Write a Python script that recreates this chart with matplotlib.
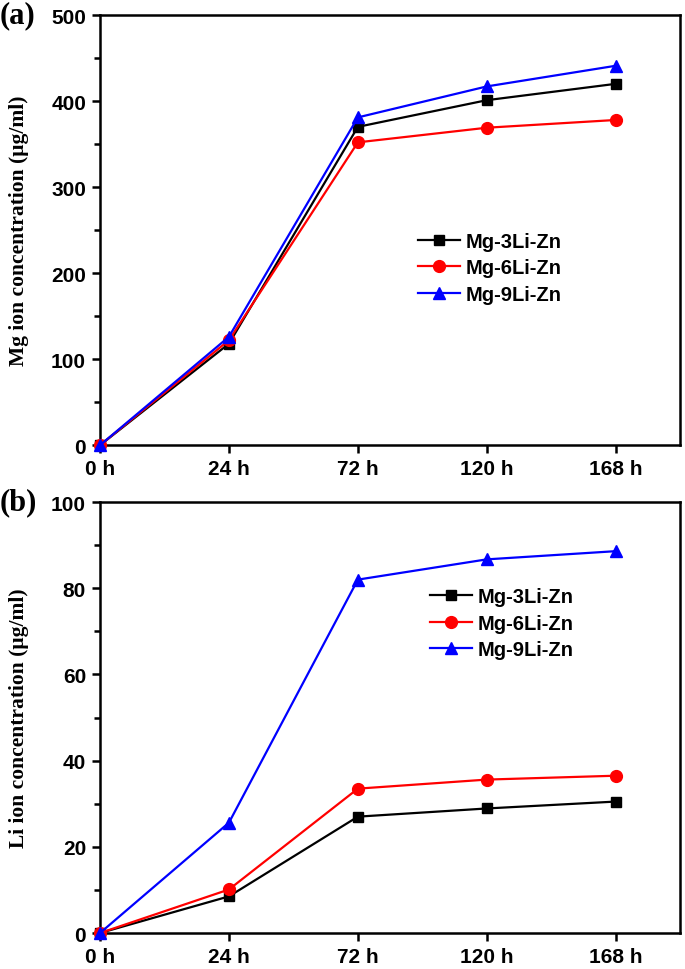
import numpy as np
import matplotlib
matplotlib.use("Agg")
import matplotlib.pyplot as plt
from matplotlib import font_manager
from matplotlib.ticker import MultipleLocator

# data
times = ["0 h", "24 h", "72 h", "120 h", "168 h"]
alloys = ["Mg-3Li-Zn", "Mg-6Li-Zn", "Mg-9Li-Zn"]

mg_3li = [0, 118, 370, 401, 420]
mg_6li = [0, 122, 352, 369, 378]
mg_9li = [0, 126, 381, 417, 441]

li_3li = [0, 8.5, 27.0, 28.9, 30.5]
li_6li = [0, 10.1, 33.5, 35.6, 36.5]
li_9li = [0, 25.6, 82.0, 86.7, 88.6]

colors = ["black", "red", "blue"]
markers = ["s", "o", "^"]
msizes = [7, 8.5, 9]

names = {f.name for f in font_manager.fontManager.ttflist}
tick_font = "Liberation Sans Narrow" if "Liberation Sans Narrow" in names else "Liberation Sans"
label_font = "Liberation Serif"
tsize = 17 if tick_font == "Liberation Sans Narrow" else 15
lsize = 17 if tick_font == "Liberation Sans Narrow" else 14.5

fig = plt.figure(figsize=(6.85, 9.70), dpi=100)
ax1 = fig.add_axes([0.146, 0.540, 0.847, 0.4435])
ax2 = fig.add_axes([0.146, 0.0371, 0.847, 0.4443])

x = np.arange(len(times))


def draw(ax, series, ymax, major, minor, ylabel, tag, leg_anchor):
    for vals, c, m, ms, name in zip(series, colors, markers, msizes, alloys):
        ax.plot(x, vals, color=c, marker=m, markersize=ms, linewidth=1.6,
                label=name, clip_on=False, zorder=3)
    ax.set_xlim(0, 4.5)
    ax.set_ylim(0, ymax)
    ax.set_xticks(x)
    ax.set_xticklabels(times)
    ax.yaxis.set_major_locator(MultipleLocator(major))
    ax.yaxis.set_minor_locator(MultipleLocator(minor))
    for s in ax.spines.values():
        s.set_linewidth(1.8)
    ax.tick_params(which="both", direction="out", width=1.8, top=False, right=False)
    ax.tick_params(which="major", length=6, pad=4)
    ax.tick_params(which="minor", length=4)
    for lab in ax.get_xticklabels() + ax.get_yticklabels():
        lab.set_fontfamily(tick_font)
        lab.set_fontweight("bold")
        lab.set_fontsize(tsize)
    ax.set_ylabel(ylabel, fontfamily=label_font, fontweight="bold", fontsize=15.5)
    ax.yaxis.set_label_coords(-0.122, 0.5)
    ax.text(0.0, ax.get_position().y1, tag, transform=fig.transFigure,
            fontfamily=label_font, fontweight="bold", fontsize=22,
            ha="left", va="center")
    ax.legend(loc="center left", bbox_to_anchor=leg_anchor, frameon=False,
              prop={"family": tick_font, "weight": "bold", "size": lsize},
              handlelength=2.1, labelspacing=0.38, handletextpad=0.25,
              borderpad=0, borderaxespad=0)


draw(ax1, [mg_3li, mg_6li, mg_9li], 500, 100, 50,
     "Mg ion concentration (\u03bcg/ml)", "(a)", (0.548, 0.412))
draw(ax2, [li_3li, li_6li, li_9li], 100, 20, 10,
     "Li ion concentration (\u03bcg/ml)", "(b)", (0.569, 0.719))

fig.savefig("out.png", dpi=100)
